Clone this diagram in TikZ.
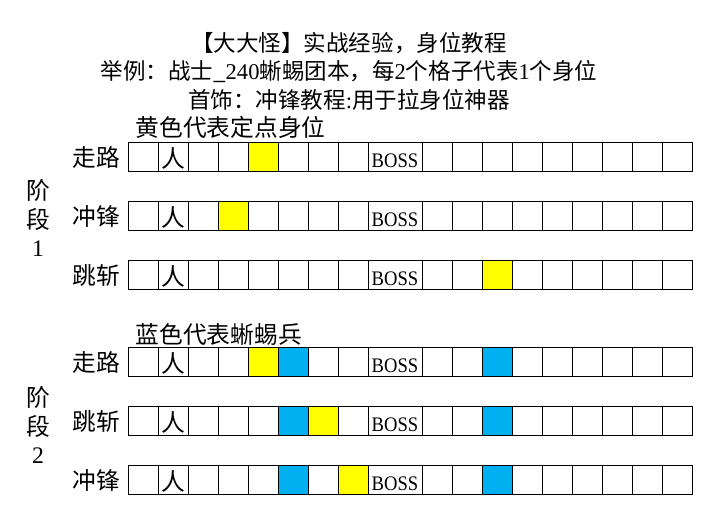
\documentclass[tikz,border=0pt]{standalone}
\usepackage{fontspec}
\setmainfont{Liberation Serif}
\newfontfamily\cjk{Noto Sans CJK SC}
\usetikzlibrary{positioning}
\definecolor{markyellow}{HTML}{FFFF00}
\definecolor{markblue}{HTML}{00B0F0}
\tikzset{
	cell/.style = {
		draw,
		line width = .75pt,
		fill = white,
		inner sep = 0pt,
		minimum width = 22.5pt,
		minimum height = 22.1pt,
		text height = 15pt,
		text depth = 0pt
	},
	boss/.style = {
		cell,
		minimum width = 40.5pt,
		font = \rmfamily\fontsize{15.5}{17}\selectfont
	},
	fixed/.style = {fill = markyellow},
	lizard/.style = {fill = markblue},
	% coloured cells
	p1walk-5/.style = fixed,
	p1charge-4/.style = fixed,
	p1leap-b3/.style = fixed,
	p2walk-5/.style = fixed,
	p2walk-6/.style = lizard,
	p2walk-b3/.style = lizard,
	p2leap-6/.style = lizard,
	p2leap-7/.style = fixed,
	p2leap-b3/.style = lizard,
	p2charge-6/.style = lizard,
	p2charge-8/.style = fixed,
	p2charge-b3/.style = lizard
}
% one row of cells: name, y, label
\newcommand{\cellrow}[3]{%
	\foreach \i in {1,...,8}
		\node (#1-\i) [cell, #1-\i/.try] at ({113+30*\i}, #2) {\ifnum\i=2 人\fi};
	\node (#1-boss) [boss] at (395, #2) {\scalebox{.9}[1]{BOSS}};
	\foreach \i in {1,...,9}
		\node (#1-b\i) [cell, #1-b\i/.try] at ({407+30*\i}, #2) {};
	\node [left = 2pt of #1-1] {#3};
}

\begin{document}
\begin{tikzpicture}[
x = .75pt,
y = -.75pt,
every node/.style = {
	font = \cjk\fontsize{17.8}{20}\selectfont
},
heading/.style = {
	anchor = west
},
phase/.style = {
	align = center,
	font = \cjk\fontsize{17.8}{21.5}\selectfont
}
]
\useasboundingbox (0,0) rectangle (726,521);

\node (title) [align = center, font = \cjk\fontsize{16.9}{21.4}\selectfont] at (349,71)
	{【大大怪】实战经验，身位教程\\
	举例：战士\_{\rmfamily 240}蜥蜴团本，每{\rmfamily 2}个格子代表{\rmfamily 1}个身位\\
	首饰：冲锋教程{\rmfamily :}用于拉身位神器};

% phase 1
\node (key_1) [heading] at (131,127) {黄色代表定点身位};
\cellrow{p1walk}{157}{走路}
\cellrow{p1charge}{216}{冲锋}
\cellrow{p1leap}{275}{跳斩}
\node (phase_1) [phase] at (38,218) {阶\\段\\{\rmfamily 1}};

% phase 2
\node (key_2) [heading] at (131,334) {蓝色代表蜥蜴兵};
\cellrow{p2walk}{362}{走路}
\cellrow{p2leap}{421}{跳斩}
\cellrow{p2charge}{480}{冲锋}
\node (phase_2) [phase] at (38,425) {阶\\段\\{\rmfamily 2}};

\end{tikzpicture}
\end{document}
